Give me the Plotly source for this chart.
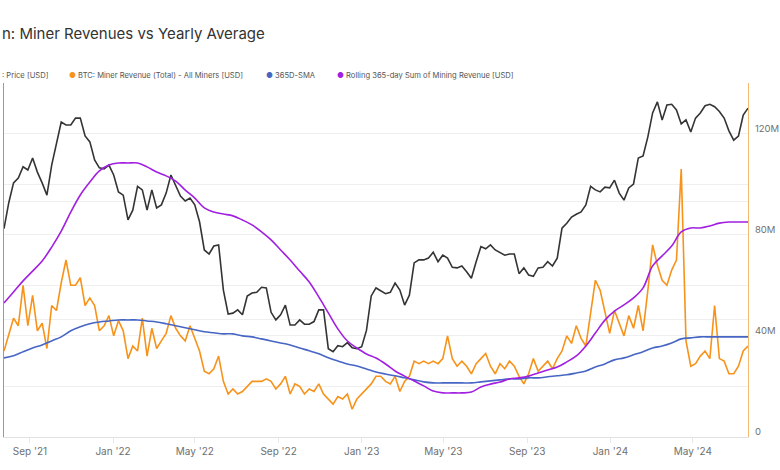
import pandas as pd
import plotly.graph_objects as go

# ---- data ----
week_dates = pd.date_range("2021-07-25", periods=157, freq="7D")
fortnight_dates = pd.date_range("2021-07-25", periods=79, freq="14D")

btc_price_k = [
    34.0, 39.6, 44.5, 45.8, 48.9, 48.0, 51.5, 47.4, 44.5, 41.4,
    49.4, 56.3, 63.6, 62.5, 62.5, 65.1, 65.1, 58.6, 56.6, 50.9,
    48.6, 48.3, 49.4, 46.6, 42.2, 41.4, 35.8, 37.9, 43.6, 42.7,
    37.9, 42.7, 38.4, 39.1, 41.9, 46.6, 43.9, 41.2, 40.0, 40.7,
    39.1, 35.4, 30.0, 29.3, 30.7, 30.9, 23.7, 20.6, 20.7, 21.1,
    20.5, 22.9, 23.3, 23.4, 24.1, 24.0, 20.8, 19.9, 20.5, 21.7,
    19.3, 19.3, 19.9, 19.4, 19.4, 19.7, 21.1, 21.1, 16.8, 16.5,
    17.1, 17.0, 17.4, 16.9, 16.8, 17.0, 18.7, 22.9, 24.0, 23.6,
    23.2, 23.4, 24.7, 23.7, 21.7, 23.0, 27.8, 28.3, 28.3, 28.6,
    29.6, 28.0, 29.1, 28.6, 27.1, 27.0, 27.3, 26.4, 25.4, 28.0,
    30.6, 30.2, 30.9, 30.0, 29.6, 29.1, 29.3, 29.3, 26.1, 27.0,
    25.9, 25.7, 27.0, 27.1, 28.0, 27.3, 28.6, 34.1, 35.1, 36.4,
    37.0, 37.5, 39.1, 43.6, 42.7, 42.2, 43.4, 43.2, 45.2, 41.9,
    40.2, 43.2, 44.2, 51.5, 52.1, 58.3, 67.1, 71.6, 64.4, 70.3,
    70.6, 68.3, 62.9, 64.4, 60.0, 65.1, 67.1, 70.0, 70.6, 69.6,
    67.7, 65.1, 60.4, 57.2, 58.6, 66.3, 69.0,
]

miner_revenue_m = [
    34, 41, 47, 44, 60, 44, 56, 42, 45, 35,
    52, 50, 61, 70, 60, 60, 63, 52, 55, 52,
    42, 44, 48, 40, 46, 42, 31, 36, 34, 47,
    32, 43, 35, 38, 41, 48, 43, 40, 38, 44,
    39, 34, 26, 25, 27, 32, 22, 17, 19, 17,
    18, 20, 22, 22, 22, 23, 22, 19, 21, 24,
    17, 21, 20, 17, 19, 18, 21, 17, 15, 13,
    16, 15, 17, 11, 15, 17, 19, 21, 24, 24,
    22, 21, 24, 18, 22, 24, 30, 29, 30, 29,
    30, 29, 31, 40, 31, 28, 30, 28, 25, 29,
    31, 33, 28, 25, 29, 27, 30, 28, 24, 21,
    25, 31, 26, 28, 30, 27, 31, 34, 40, 37,
    44, 39, 36, 49, 62, 58, 50, 41, 50, 45,
    40, 48, 43, 52, 42, 58, 76, 68, 62, 60,
    66, 70, 106, 38, 28, 29, 32, 34, 31, 52,
    31, 30, 25, 25, 28, 34, 36,
]

sma365_m = [
    31.3, 32.1, 33.7, 35.2, 36.4, 38.0, 39.6, 42.0, 43.6, 44.8,
    45.5, 45.9, 46.3, 46.3, 46.3, 45.9, 45.5, 44.8, 44.0, 43.2,
    42.4, 41.6, 41.2, 40.8, 40.8, 40.0, 39.6, 38.8, 38.0, 37.2,
    36.4, 35.2, 34.1, 32.9, 31.3, 30.1, 28.9, 28.1, 26.9, 25.7,
    24.9, 24.2, 23.4, 22.6, 21.8, 21.4, 21.4, 21.4, 21.4, 21.4,
    21.8, 22.2, 22.6, 23.0, 23.0, 23.4, 23.4, 23.8, 24.2, 24.6,
    25.3, 26.1, 27.7, 28.9, 30.5, 31.3, 32.5, 33.7, 35.2, 36.0,
    37.2, 38.8, 39.2, 39.6, 39.6, 39.6, 39.6, 39.6, 39.6,
]

rolling_sum_b = [
    11.19, 11.62, 12.05, 12.43, 12.82, 13.36, 13.98, 14.72, 15.38, 15.88,
    16.31, 16.54, 16.62, 16.62, 16.62, 16.47, 16.27, 16.12, 15.92, 15.57,
    15.26, 14.88, 14.72, 14.64, 14.57, 14.41, 14.22, 13.95, 13.64, 13.25,
    12.86, 12.43, 12.01, 11.43, 10.81, 10.19, 9.72, 9.45, 9.22, 9.06,
    8.83, 8.56, 8.36, 8.17, 7.98, 7.78, 7.71, 7.71, 7.71, 7.74,
    7.94, 8.05, 8.13, 8.25, 8.29, 8.36, 8.48, 8.60, 8.71, 8.91,
    9.14, 9.53, 10.03, 10.53, 10.88, 11.12, 11.39, 11.78, 12.63, 13.02,
    13.40, 13.95, 14.10, 14.10, 14.18, 14.29, 14.33, 14.33, 14.33,
]

right_tick_vals = [0, 20e6, 40e6, 60e6, 80e6, 100e6, 120e6, 140e6]
right_tick_text = ["0", "", "40M", "", "80M", "", "120M", ""]
price_grid_vals = [10000, 20000, 40000, 80000]

# ---- styling ----
C_PRICE = "#343434"
C_REV = "#f7931a"
C_SMA = "#4766c4"
C_SUM = "#a11fe0"
FONT = "Inter"

W, H = 780, 470
ML, MR, MT, MB = 4, 32, 83, 33
PW, PH = W - ML - MR, H - MT - MB


def px(x):
    return (x - ML) / PW


def py(y):
    return (H - MB - y) / PH


fig = go.Figure()
fig.add_trace(go.Scatter(
    x=week_dates, y=[v * 1000 for v in btc_price_k], yaxis="y",
    mode="lines", line=dict(color=C_PRICE, width=1.6), name="Price"))
fig.add_trace(go.Scatter(
    x=week_dates, y=[v * 1e6 for v in miner_revenue_m], yaxis="y2",
    mode="lines", line=dict(color=C_REV, width=1.6), name="Miner Revenue"))
fig.add_trace(go.Scatter(
    x=fortnight_dates, y=[v * 1e6 for v in sma365_m], yaxis="y2",
    mode="lines", line=dict(color=C_SMA, width=1.6, shape="spline"), name="365D-SMA"))
fig.add_trace(go.Scatter(
    x=fortnight_dates, y=[v * 1e9 for v in rolling_sum_b], yaxis="y3",
    mode="lines", line=dict(color=C_SUM, width=1.6, shape="spline"), name="Rolling"))

fig.update_layout(
    width=W, height=H, autosize=False,
    margin=dict(l=ML, r=MR, t=MT, b=MB, pad=0, autoexpand=False),
    paper_bgcolor="white", plot_bgcolor="white",
    showlegend=False,
    font=dict(family=FONT, color="#666"),
    xaxis=dict(
        type="date", range=["2021-07-25", "2024-07-21"], automargin=False,
        showgrid=False, showline=True, linecolor="#e2e2e2", linewidth=1,
        ticks="outside", ticklen=5, tickcolor="#e8e8e8",
        tick0="2021-09-01", dtick="M4", tickformat="%b '%y",
        tickfont=dict(size=10, color="#707070", family=FONT), zeroline=False,
    ),
    yaxis=dict(
        type="log", range=[4, 4.90309], side="left", automargin=False,
        tickvals=price_grid_vals, showticklabels=False,
        showgrid=True, gridcolor="#efefef", gridwidth=1,
        showline=True, linecolor="#9a9a9a", linewidth=1, zeroline=False,
    ),
    yaxis2=dict(
        overlaying="y", side="right", range=[0, 140e6], automargin=False,
        tickvals=right_tick_vals, ticktext=right_tick_text,
        showgrid=True, gridcolor="#efefef", gridwidth=1,
        showline=True, linecolor="#f4b870", linewidth=1, zeroline=False,
        ticks="outside", ticklen=4, tickcolor="rgba(0,0,0,0)",
        ticklabelshift=-5,
        tickfont=dict(size=9.5, color="#707070", family=FONT),
    ),
    yaxis3=dict(
        overlaying="y", side="left", range=[6e9, 19.72e9], automargin=False,
        visible=False, showgrid=False, zeroline=False,
    ),
)

ann = []
ann.append(dict(text="n: Miner Revenues vs Yearly Average", x=px(0), y=py(33),
                xref="paper", yref="paper", xanchor="left", yanchor="middle",
                showarrow=False, font=dict(size=15, color="#333", family=FONT)))

legend_items = [
    (0, None, ": Price [USD]"),
    (67, C_REV, "BTC: Miner Revenue (Total) - All Miners [USD]"),
    (264, C_SMA, "365D-SMA"),
    (335, C_SUM, "Rolling 365-day Sum of Mining Revenue [USD]"),
]
for x0, col, label in legend_items:
    if col is None:
        txt = label
    else:
        txt = f'<span style="color:{col}">●</span> {label}'
    ann.append(dict(text=txt, x=px(x0), y=py(75), xref="paper", yref="paper",
                    xanchor="left", yanchor="middle", showarrow=False,
                    font=dict(size=7.6, color="#555", family=FONT)))
fig.update_layout(annotations=ann)

fig.write_html(
    "out.html",
    config={"displayModeBar": False},
    post_script="document.body.style.margin='0';document.body.style.overflow='hidden';",
)
